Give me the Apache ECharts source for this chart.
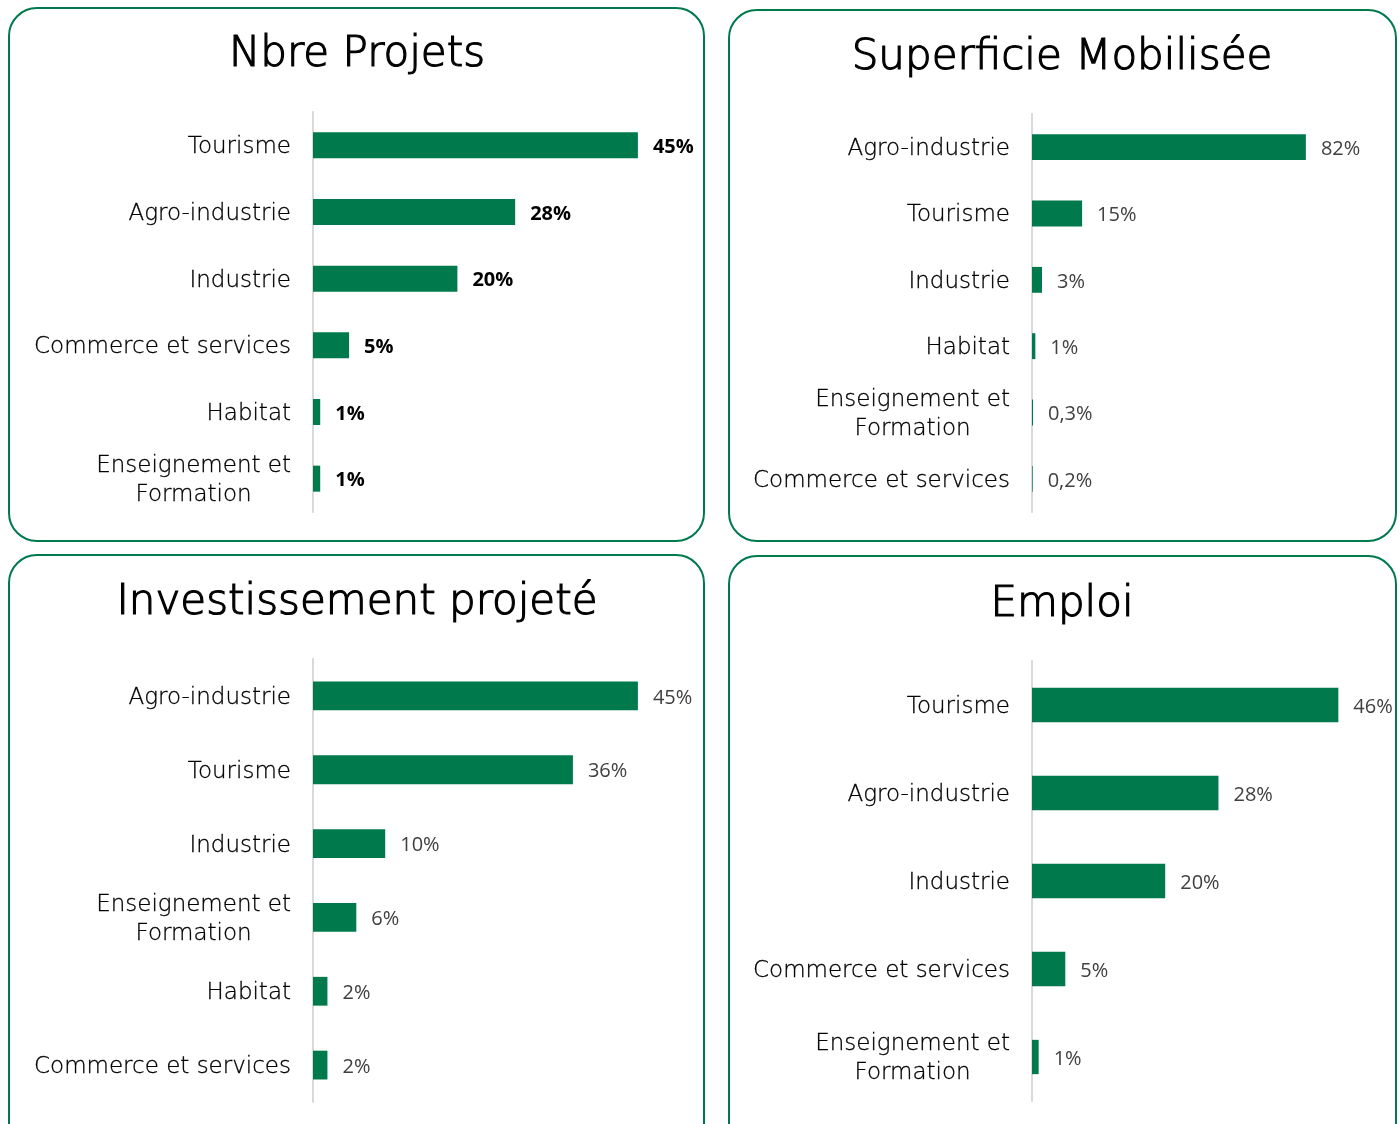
<!DOCTYPE html>
<html>
<head>
<meta charset="utf-8">
<script src="https://cdn.jsdelivr.net/npm/echarts@6/dist/echarts.min.js"></script>
<style>
  html, body { margin: 0; padding: 0; background: #fff; }
  #main { width: 1400px; height: 1124px; }
</style>
</head>
<body>
<div id="main"></div>
<script>
// données (en %)
const catProjets = ["Tourisme", "Agro-industrie", "Industrie", "Commerce et services", "Habitat", "Enseignement et\nFormation"];
const valProjets = [45, 28, 20, 5, 1, 1];

const catSuperficie = ["Agro-industrie", "Tourisme", "Industrie", "Habitat", "Enseignement et\nFormation", "Commerce et services"];
const valSuperficie = [82, 15, 3, 1, 0.3, 0.2];

const catInvest = ["Agro-industrie", "Tourisme", "Industrie", "Enseignement et\nFormation", "Habitat", "Commerce et services"];
const valInvest = [45, 36, 10, 6, 2, 2];

const catEmploi = ["Tourisme", "Agro-industrie", "Industrie", "Commerce et services", "Enseignement et\nFormation"];
const valEmploi = [46, 28, 20, 5, 1];

const titles = ["Nbre Projets", "Superficie Mobilisée", "Investissement projeté", "Emploi"];

const GREEN = "#007a4d";
const catFont = "'DejaVu Sans', sans-serif";
const valFont = "'Open Sans', Lato, sans-serif";

const grids = [
  { left: 313, top: 112, width: 361, height: 400 },
  { left: 1032, top: 114, width: 334, height: 398 },
  { left: 313, top: 659, width: 361, height: 443 },
  { left: 1032, top: 661, width: 333, height: 440 }
];
const maxes = [50, 100, 50, 50];
const cats = [catProjets, catSuperficie, catInvest, catEmploi];
const vals = [valProjets, valSuperficie, valInvest, valEmploi];

function catLabel(v) {
  return v.split("\n").map(s => "{c|" + s + "}").join("\n");
}

const option = {
  animation: false,
  backgroundColor: "#fff",
  title: [
    { text: titles[0], left: 357, top: 34 },
    { text: titles[1], left: 1062, top: 37 },
    { text: titles[2], left: 357, top: 582 },
    { text: titles[3], left: 1062, top: 584 }
  ].map(t => ({
    text: t.text,
    left: t.left,
    top: t.top,
    padding: 0,
    textAlign: "center",
    textStyle: {
      fontFamily: catFont, fontSize: 42, fontWeight: 200, color: "#000",
      textBorderColor: "#000", textBorderWidth: 1.2
    }
  })),
  graphic: [
    { x: 9, y: 8, w: 695, h: 533 },
    { x: 729, y: 10, w: 667, h: 531 },
    { x: 9, y: 555, w: 695, h: 600 },
    { x: 729, y: 556, w: 667, h: 600 }
  ].map(b => ({
    type: "rect",
    shape: { x: b.x, y: b.y, width: b.w, height: b.h, r: 28 },
    style: { fill: "none", stroke: GREEN, lineWidth: 2 },
    z: 0
  })),
  grid: grids.map(g => Object.assign({ containLabel: false }, g)),
  xAxis: grids.map((g, i) => ({
    type: "value",
    gridIndex: i,
    min: 0,
    max: maxes[i],
    show: false
  })),
  yAxis: grids.map((g, i) => ({
    type: "category",
    gridIndex: i,
    data: cats[i],
    inverse: true,
    axisLine: { show: true, lineStyle: { color: "#d9d9d9", width: 2 } },
    axisTick: { show: false },
    axisLabel: {
      margin: 22,
      formatter: catLabel,
      rich: {
        c: {
          fontFamily: catFont, fontSize: 23, fontWeight: 200, color: "#000",
          textBorderColor: "#000", textBorderWidth: 0.3,
          align: "center", lineHeight: 29, padding: [4, 0, 0, 0]
        }
      }
    }
  })),
  series: grids.map((g, i) => ({
    type: "bar",
    xAxisIndex: i,
    yAxisIndex: i,
    data: vals[i],
    barWidth: "39%",
    itemStyle: { color: GREEN },
    label: {
      show: true,
      position: "right",
      distance: 15,
      offset: [0, 2],
      formatter: p => String(p.value).replace(".", ",") + "%",
      fontFamily: valFont,
      fontSize: 20,
      fontWeight: i === 0 ? "bold" : "normal",
      color: i === 0 ? "#000" : "#404040"
    }
  }))
};

const chart = echarts.init(document.getElementById("main"));
chart.setOption(option);
</script>
</body>
</html>
